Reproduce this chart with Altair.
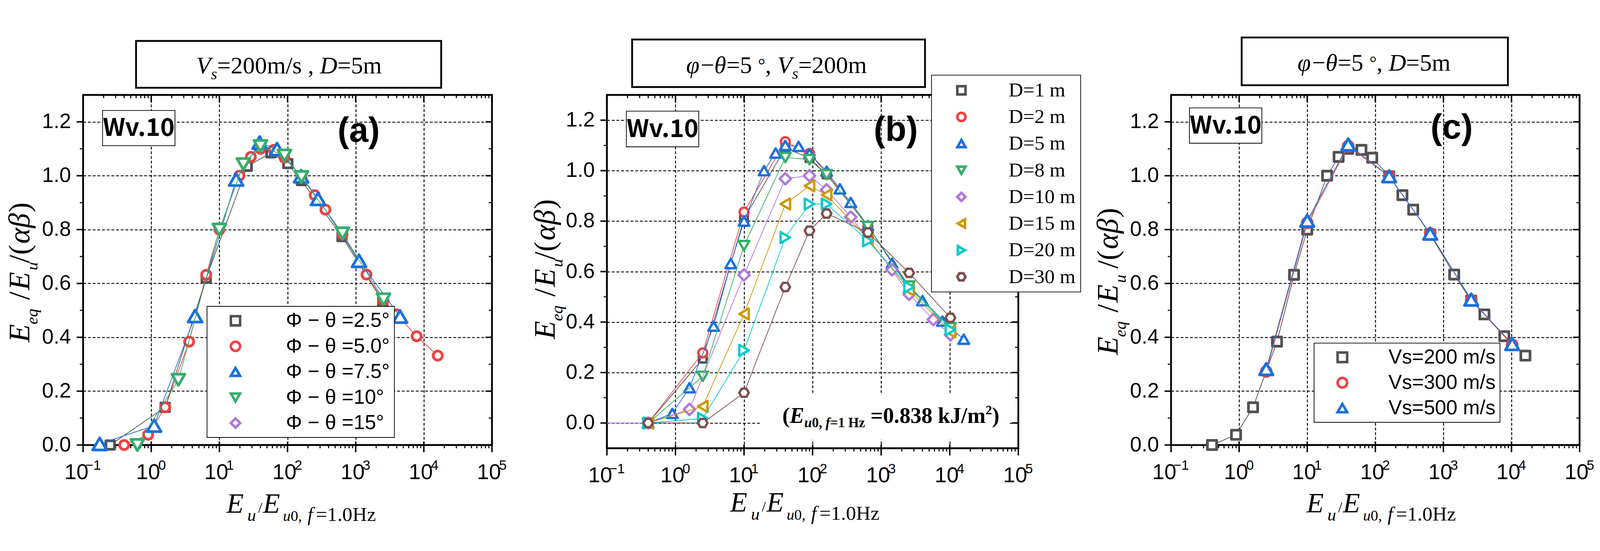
import altair as alt
import pandas as pd

# ---------------- data ----------------
# panel (a): Vs=200 m/s, D=5 m, different phi-theta
A_NAMES = ["Φ − θ =2.5°", "Φ − θ =5.0°", "Φ − θ =7.5°", "Φ − θ =10°", "Φ − θ =15°"]
A1_X = [0.06, 0.25, 1.6, 6.4, 25.6, 57, 101, 160, 630, 2500]
A1_Y = [0.0, 0.0, 0.14, 0.62, 1.035, 1.085, 1.045, 0.982, 0.774, 0.532]
A2_X = [0.4, 0.9, 1.6, 3.6, 6.4, 10, 19.6, 28.9, 40, 62.5, 90, 160, 250, 360, 640, 1440, 2560, 4000, 7840, 16000]
A2_Y = [0.0, 0.038, 0.14, 0.384, 0.632, 0.80, 1.0, 1.07, 1.10, 1.096, 1.067, 0.998, 0.928, 0.874, 0.782, 0.633, 0.536, 0.485, 0.404, 0.332]
A3_X = [0.175, 1.1, 4.4, 17.6, 39, 70, 158, 280, 1120, 4480]
A3_Y = [0.004, 0.072, 0.479, 0.986, 1.123, 1.099, 0.998, 0.914, 0.684, 0.477]
A4_X = [0.625, 2.5, 10, 22.5, 40, 90, 160, 640, 2560]
A4_Y = [0.0, 0.242, 0.80, 1.043, 1.11, 1.075, 0.995, 0.786, 0.541]
A5_X = []
A5_Y = []

# panel (b): phi-theta=5 deg, Vs=200, different D
B_NAMES = ["D=1 m", "D=2 m", "D=5 m", "D=8 m", "D=10 m", "D=15 m", "D=20 m", "D=30 m"]
B1_X = [0.4, 2.5, 10, 40, 90, 160, 640, 2560, 10240]
B1_Y = [0.0, 0.255, 0.81, 1.09, 1.05, 0.985, 0.78, 0.54, 0.37]
B2_X = [0.4, 2.5, 10, 40, 90, 160, 640, 2560, 10240]
B2_Y = [0.0, 0.278, 0.836, 1.115, 1.068, 0.99, 0.78, 0.54, 0.37]
B3_X = [0.4, 0.9, 1.6, 3.6, 6.4, 10, 19.6, 28.9, 40, 62.5, 90, 160, 250, 360, 640, 1440, 2560, 4000, 7840, 16000]
B3_Y = [0.0, 0.038, 0.14, 0.384, 0.632, 0.80, 1.0, 1.07, 1.10, 1.096, 1.067, 0.998, 0.928, 0.874, 0.782, 0.633, 0.536, 0.485, 0.404, 0.332]
B4_X = [0.4, 2.5, 10, 40, 90, 160, 640, 2560, 10240]
B4_Y = [0.0, 0.185, 0.703, 1.052, 1.044, 0.984, 0.779, 0.543, 0.378]
B5_X = [0.06, 0.4, 1.6, 10, 40, 90, 160, 360, 1440, 2560, 5760, 10240]
B5_Y = [0.0, 0.0, 0.054, 0.587, 0.968, 0.98, 0.924, 0.816, 0.607, 0.51, 0.41, 0.35]
B6_X = [0.4, 2.5, 10, 40, 90, 160, 640, 2560, 10240]
B6_Y = [0.0, 0.066, 0.432, 0.868, 0.94, 0.904, 0.73, 0.527, 0.362]
B7_X = [0.4, 2.5, 10, 40, 90, 160, 640, 2560, 10240]
B7_Y = [0.0, 0.018, 0.288, 0.735, 0.868, 0.868, 0.722, 0.539, 0.37]
B8_X = [0.4, 2.5, 10, 40, 90, 160, 640, 2560, 10240]
B8_Y = [0.0, 0.0, 0.12, 0.539, 0.762, 0.83, 0.755, 0.595, 0.417]

# panel (c): phi-theta=5 deg, D=5 m, different Vs
C_NAMES = ["Vs=200 m/s", "Vs=300 m/s", "Vs=500 m/s"]
C1_X = [0.06, 0.4, 0.9, 1.6, 3.6, 6.4, 10, 19.6, 28.9, 40, 62.5, 90, 160, 250, 360, 640, 1440, 2560, 4000, 7840, 16000]
C1_Y = [0.0, 0.0, 0.038, 0.14, 0.384, 0.632, 0.80, 1.0, 1.07, 1.10, 1.096, 1.067, 0.998, 0.928, 0.874, 0.782, 0.633, 0.536, 0.485, 0.404, 0.332]
C2_X = [2.5, 10, 40, 160, 640, 2560, 10240]
C2_Y = [0.273, 0.825, 1.11, 0.998, 0.785, 0.538, 0.372]
C3_X = [2.5, 10, 40, 160, 640, 2560, 10240]
C3_Y = [0.282, 0.833, 1.116, 0.998, 0.785, 0.54, 0.375]

# axis ticks / labels
XDOM = [0.1, 100000]
XT_VALS = [0.1, 1, 10, 100, 1000, 10000, 100000]
XT_EXP = ["−1", "0", "1", "2", "3", "4", "5"]
XGRID = [1, 10, 100, 1000, 10000]
XMINOR = [m * 10.0 ** e for e in range(-1, 5) for m in range(2, 10)]
YT_VALS = [0.0, 0.2, 0.4, 0.6, 0.8, 1.0, 1.2]
YMINOR = [0.1, 0.3, 0.5, 0.7, 0.9, 1.1]

# ---------------- styles ----------------
GRAY, RED, BLUE, GREEN = "#515151", "#F14040", "#1A6FDF", "#37AD6B"
PURPLE, GOLD, CYAN, BROWN = "#B177DE", "#CC9900", "#00CBCC", "#7D4E4E"
HEX = "M-1,0L-0.5,-0.866L0.5,-0.866L1,0L0.5,0.866L-0.5,0.866Z"

SERIF = "Liberation Serif"
SANS = "Liberation Sans"
NARROW = "Liberation Sans Narrow, Liberation Sans"
BOLDSANS = "Noto Sans CJK JP, Liberation Sans"

W_REG = {' ': 0.25, '(': 0.333, ')': 0.333, ',': 0.25, '.': 0.25, '/': 0.278, '=': 0.564,
         '−': 0.564, '°': 0.4, 'H': 0.722, 'z': 0.444, 'm': 0.778, 's': 0.389, 'k': 0.5, 'J': 0.389}
W_IT = {'E': 0.611, 'V': 0.611, 'D': 0.722, 'u': 0.5, 'e': 0.444, 'q': 0.5, 's': 0.389,
        'f': 0.278, 'α': 0.55, 'β': 0.5, 'θ': 0.5, 'φ': 0.6}
W_BOLD = {' ': 0.25, '(': 0.333, ')': 0.333, ',': 0.25, '.': 0.25, '/': 0.278, '=': 0.57,
          'H': 0.778, 'z': 0.444, 'm': 0.833, 'k': 0.556, 'J': 0.5, 'u': 0.556, 'E': 0.667, 'f': 0.333}


def txt(s, x, y, size, font=SERIF, style="normal", weight="normal", angle=0,
        align="left", baseline="alphabetic"):
    kw = dict(align=align, baseline=baseline, font=font, fontSize=size,
              fontStyle=style, fontWeight=weight, color="black")
    if angle:
        kw["angle"] = angle
    return alt.Chart(pd.DataFrame({"t": [s]})).mark_text(**kw).encode(
        x=alt.value(x), y=alt.value(y), text="t:N")


def seg_width(s, style, weight):
    table = W_BOLD if weight == "bold" else (W_IT if style == "italic" else W_REG)
    return sum(table.get(c, 0.5) for c in s)


def rich(segs, x0, y0, font=SERIF):
    """segs: (text, size, style, weight, shift); leading/trailing spaces only advance"""
    out, pos = [], 0.0
    for s, size, style, weight, shift in segs:
        lead = len(s) - len(s.lstrip(" "))
        core = s.strip(" ")
        p = pos + seg_width(" " * lead, style, weight) * size
        if core:
            out.append(txt(core, x0 + p, y0 + shift, size, font=font, style=style, weight=weight))
        pos += seg_width(s, style, weight) * size
    return out


def placed(segs, x0, y0, vertical=False):
    """segs: (text, size, style, shift, offset) with measured offsets"""
    out = []
    for s, size, style, shift, off in segs:
        if vertical:
            out.append(txt(s, x0 + shift, y0 - off, size, style=style, angle=270))
        else:
            out.append(txt(s, x0 + off, y0 + shift, size, style=style))
    return out


def rect(x1, y1, x2, y2, sw=0, fill="white", stroke="black", opacity=1.0):
    kw = dict(fill=fill, opacity=opacity)
    if sw:
        kw.update(stroke=stroke, strokeWidth=sw)
    return alt.Chart(pd.DataFrame({"a": [0]})).mark_rect(**kw).encode(
        x=alt.value(x1), x2=alt.value(x2), y=alt.value(y1), y2=alt.value(y2))


IT, RG = "italic", "normal"
XTITLE = [("E", 78, IT, 0, 0), ("u", 48, IT, 23, 58), ("/", 40, RG, 0, 88), ("E", 78, IT, 0, 101),
          ("u", 42, IT, 23, 157), ("0,", 42, RG, 23, 178), ("f", 54, IT, 23, 225), ("=1.0Hz", 56, RG, 23, 248)]
YTITLE_AB = [("E", 83, IT, 0, 0), ("eq", 46, IT, 22, 50), ("/", 83, RG, 0, 118), ("E", 83, IT, 0, 145),
             ("u", 46, IT, 22, 200), ("/(", 83, RG, 0, 220), ("αβ", 83, IT, 0, 274), (")", 83, RG, 0, 361)]
YTITLE_C = [("E", 83, IT, 0, 0), ("eq", 46, IT, 22, 50), ("/", 83, RG, 0, 118), ("E", 83, IT, 0, 145),
            ("u", 46, IT, 22, 200), ("/(", 83, RG, 0, 240), ("αβ", 83, IT, 0, 294), (")", 83, RG, 0, 381)]


def make_panel(cfg):
    W, H = cfg["W"], cfg["H"]
    xs = alt.Scale(type="log", domain=XDOM, nice=False)
    ys = alt.Scale(domain=cfg["ydom"], nice=False, zero=False)
    grid = dict(gridColor="black", gridDash=[8, 5], gridWidth=2.5, gridOpacity=1)
    xaxis = alt.Axis(values=XGRID, labels=False, ticks=False, domain=False, grid=True, title=None, **grid)
    yaxis = alt.Axis(values=YT_VALS, labels=True, ticks=False, tickSize=0, domain=False, grid=True,
                     title=None, format=".1f", labelFont=NARROW, labelFontSize=58, labelPadding=34,
                     labelColor="black", **grid)

    def X(f):
        return alt.X(f"{f}:Q", scale=xs, axis=xaxis)

    def Y(f):
        return alt.Y(f"{f}:Q", scale=ys, axis=yaxis)

    L = []
    b = cfg["bounds"]
    L.append(rect(b[0], b[1], b[2], b[3], opacity=0))
    if "white" in cfg:
        w = cfg["white"]
        L.append(rect(w[0], w[1], w[2], w[3]))

    # ticks
    def xt(vals, y1, y2, sw):
        return alt.Chart(pd.DataFrame({"v": vals})).mark_rule(color="black", strokeWidth=sw).encode(
            x=X("v"), y=alt.value(y1), y2=alt.value(y2))

    def yt(vals, x1, x2, sw):
        return alt.Chart(pd.DataFrame({"v": vals})).mark_rule(color="black", strokeWidth=sw).encode(
            y=Y("v"), x=alt.value(x1), x2=alt.value(x2))

    L += [xt(XT_VALS, H - 10, H + 20, 4), xt(XT_VALS, 0, 20, 4),
          xt(XMINOR, H, H + 9, 3), xt(XMINOR, 0, 9, 3),
          yt(YT_VALS, -18, 0, 4), yt(YT_VALS, W - 18, W, 4),
          yt(YMINOR, -9, 0, 3), yt(YMINOR, W - 9, W, 3)]

    names = cfg["names"]
    lg = cfg["legend"]
    legend = alt.Legend(title=None, orient="none", legendX=lg["x"], legendY=lg["y"], padding=lg["pad"],
                        rowPadding=lg["rp"], labelFont=lg["font"], labelFontSize=lg["fs"], labelLimit=1000,
                        labelColor="black", labelOffset=lg["lo"], symbolOffset=lg["so"],
                        symbolSize=lg["ss"], symbolStrokeWidth=lg["sw"], symbolFillColor="white",
                        symbolOpacity=1, strokeColor="black", fillColor="white")
    cscale = alt.Scale(domain=names, range=cfg["colors"])
    sscale = alt.Scale(domain=names, range=cfg["shapes"])
    for name, xs_, ys_, col, shp in zip(names, cfg["xs"], cfg["ys"], cfg["colors"], cfg["shapes"]):
        if not xs_:
            continue
        df = pd.DataFrame({"x": xs_, "y": ys_, "s": name})
        L.append(alt.Chart(df).mark_line(color=col, strokeWidth=2, clip=True).encode(x=X("x"), y=Y("y")))
        L.append(alt.Chart(df).transform_filter(alt.datum.x >= 0.1).mark_point(
            filled=False, fill="white", size=cfg["sizes"][shp if shp != HEX else "hex"],
            strokeWidth=cfg["msw"], opacity=1, strokeJoin="round").encode(
            x=X("x"), y=Y("y"),
            color=alt.Color("s:N", scale=cscale, legend=legend),
            shape=alt.Shape("s:N", scale=sscale, legend=legend)))

    # x tick labels (10^n)
    lab = pd.DataFrame({"v": XT_VALS, "b": ["10"] * len(XT_VALS), "e": XT_EXP})
    first, rest = lab.iloc[:1], lab.iloc[1:]
    for d, dx10, dxe in ((first, -18.5, 28), (rest, -8.5, 30)):
        L.append(alt.Chart(d).mark_text(align="center", baseline="alphabetic", font=NARROW, fontSize=60,
                                        color="black", dx=dx10).encode(x=X("v"), y=alt.value(H + 95), text="b:N"))
        L.append(alt.Chart(d).mark_text(align="center", baseline="alphabetic", font=NARROW, fontSize=38,
                                        color="black", dx=dxe).encode(x=X("v"), y=alt.value(H + 69), text="e:N"))

    # Wv.10 box
    wb = cfg["wv"]
    L.append(rect(wb[0], wb[1], wb[2], wb[3], sw=2))
    L.append(txt("Wv.10", (wb[0] + wb[2]) / 2, (wb[1] + wb[3]) / 2 + 2, 68, font=BOLDSANS, weight="bold",
                 align="center", baseline="middle"))
    # panel letter
    pl = cfg["letter"]
    L.append(txt(pl[0], pl[1], pl[2], 96, font=SANS, weight="bold", align="center", baseline="middle"))
    # title box
    tb = cfg["tbox"]
    L.append(rect(tb[0], tb[1], tb[2], tb[3], sw=5))
    L += rich(cfg["title"], cfg["tpos"][0], cfg["tpos"][1])
    # annotation
    if "annot" in cfg:
        L += rich(cfg["annot"], cfg["apos"][0], cfg["apos"][1])
    # axis titles
    L += placed(cfg["ytitle"], cfg["ypos"][0], cfg["ypos"][1], vertical=True)
    L += placed(XTITLE, cfg["xpos"][0], cfg["xpos"][1])
    return alt.layer(*L).properties(width=W, height=H)


SZ_A = {"square": 560, "circle": 640, "triangle-up": 1500, "triangle-down": 1300, "diamond": 1000}
SZ_B = {"square": 450, "circle": 600, "triangle-up": 880, "triangle-down": 880, "diamond": 980,
        "triangle-left": 930, "triangle-right": 930, "hex": 700}
SZ_C = {"square": 650, "circle": 760, "triangle-up": 1400}

PA = dict(
    W=1135, H=972, ydom=[0, 1.3], bounds=(-219, -172, 1193, 1225),
    names=A_NAMES, xs=[A1_X, A2_X, A3_X, A4_X, A5_X], ys=[A1_Y, A2_Y, A3_Y, A4_Y, A5_Y],
    colors=[GRAY, RED, BLUE, GREEN, PURPLE],
    shapes=["square", "circle", "triangle-up", "triangle-down", "diamond"],
    sizes=SZ_A, msw=7.5,
    legend=dict(x=344, y=587, pad=12, rp=15, font=SANS, fs=56, lo=112, so=39, ss=650, sw=7),
    wv=(54, 43, 255, 141), letter=("(a)", 765, 101), tbox=(147, -150, 994, -20),
    title=[("V", 67, IT, "normal", 0), ("s", 44, IT, "normal", 16), ("=200m/s , ", 67, RG, "normal", 0),
           ("D", 67, IT, "normal", 0), ("=5m", 67, RG, "normal", 0)],
    tpos=(314, -60), ytitle=YTITLE_AB, ypos=(-149, 687), xpos=(398, 1160),
)

PB = dict(
    W=1142, H=981, ydom=[-0.1, 1.3], bounds=(-255, -174, 1275, 1223),
    names=B_NAMES, xs=[B1_X, B2_X, B3_X, B4_X, B5_X, B6_X, B7_X, B8_X],
    ys=[B1_Y, B2_Y, B3_Y, B4_Y, B5_Y, B6_Y, B7_Y, B8_Y],
    colors=[GRAY, RED, BLUE, GREEN, PURPLE, GOLD, CYAN, BROWN],
    shapes=["square", "circle", "triangle-up", "triangle-down", "diamond", "triangle-left",
            "triangle-right", HEX],
    sizes=SZ_B, msw=6.5,
    legend=dict(x=901, y=-55, pad=14, rp=18, font=SERIF, fs=56, lo=103, so=41, ss=520, sw=7),
    white=(428, 828, 1115, 957),
    wv=(54, 45, 255, 144), letter=("(b)", 802, 99), tbox=(70, -154, 883, -22),
    title=[("φ", 67, IT, "normal", 0), ("−", 67, RG, "normal", 0), ("θ", 67, IT, "normal", 0),
           ("=5 ", 67, RG, "normal", 0), ("°", 50, RG, "normal", -6), (", ", 67, RG, "normal", 0),
           ("V", 67, IT, "normal", 0), ("s", 44, IT, "normal", 16), ("=200m", 67, RG, "normal", 0)],
    tpos=(220, -60.5),
    annot=[("(", 61, RG, "bold", 0), ("E", 61, IT, "bold", 0), ("u", 38, IT, "bold", 12),
           ("0, ", 38, RG, "bold", 12), ("f", 38, IT, "bold", 12), ("=1 Hz", 38, RG, "bold", 12),
           (" =0.838 kJ/m", 61, RG, "bold", 0), ("2", 36, RG, "bold", -24), (")", 61, RG, "bold", 0)],
    apos=(487, 911),
    ytitle=YTITLE_AB, ypos=(-145, 678), xpos=(342, 1157),
)

PC = dict(
    W=1134, H=972, ydom=[0, 1.3], bounds=(-244, -192, 1179, 1205),
    names=C_NAMES, xs=[C1_X, C2_X, C3_X], ys=[C1_Y, C2_Y, C3_Y],
    colors=[GRAY, RED, BLUE], shapes=["square", "circle", "triangle-up"],
    sizes=SZ_C, msw=7.5,
    legend=dict(x=397, y=689, pad=11.5, rp=14.5, font=SANS, fs=56, lo=100, so=39, ss=700, sw=7),
    wv=(51, 36, 252, 134), letter=("(c)", 779, 92.5), tbox=(196, -159.5, 935, -27),
    title=[("φ", 67, IT, "normal", 0), ("−", 67, RG, "normal", 0), ("θ", 67, IT, "normal", 0),
           ("=5 ", 67, RG, "normal", 0), ("°", 50, RG, "normal", -6), (", ", 67, RG, "normal", 0),
           ("D", 67, IT, "normal", 0), ("=5m", 67, RG, "normal", 0)],
    tpos=(351, -67), ytitle=YTITLE_C, ypos=(-148, 722), xpos=(376, 1159),
)

chart = alt.hconcat(make_panel(PA), make_panel(PB), make_panel(PC), spacing=0).resolve_scale(
    x="independent", y="independent", color="independent", shape="independent"
).resolve_legend(color="independent", shape="independent").properties(
    padding=0, background="white"
).configure_view(stroke="black", strokeWidth=5).configure_legend(strokeWidth=2)

chart.save("out.html", embed_options={"renderer": "svg", "actions": False})
